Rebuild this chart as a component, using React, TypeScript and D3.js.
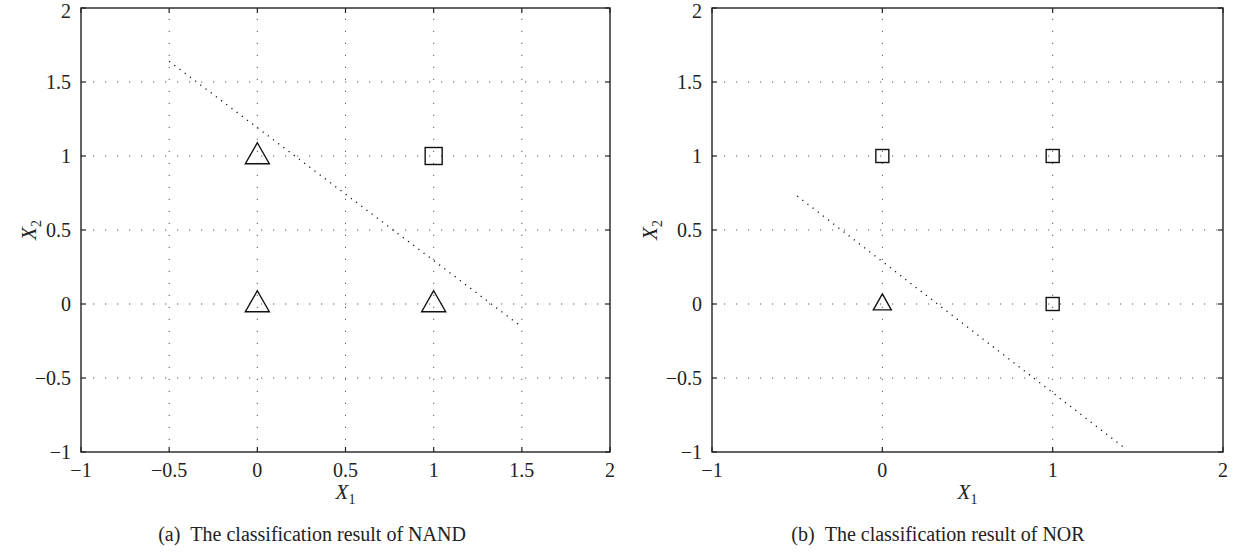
import React, { useEffect, useRef } from "react";
import * as d3 from "d3";

// tick values
const leftXTicks = [-1, -0.5, 0, 0.5, 1, 1.5, 2];
const rightXTicks = [-1, 0, 1, 2];
const yTicks = [-1, -0.5, 0, 0.5, 1, 1.5, 2];

// NAND: triangles = output 1, square = output 0
const nandTriX1 = [0, 0, 1];
const nandTriX2 = [0, 1, 0];
const nandSqX1 = [1];
const nandSqX2 = [1];
const nandLineX1 = [-0.5, 1.5];
const nandLineX2 = [1.64, -0.155];

// NOR
const norTriX1 = [0];
const norTriX2 = [0];
const norSqX1 = [0, 1, 1];
const norSqX2 = [1, 1, 0];
const norLineX1 = [-0.5, 1.43];
const norLineX2 = [0.73, -0.98];

const FONT = "'Liberation Serif', 'Times New Roman', serif";

const fmt = (v) => (v < 0 ? "\u2212" + Math.abs(v) : String(v));

function drawPanel(root, opts) {
  const { left, right, top, bottom, xTicks, tri, sq, line, triSize, sqSize, caption, captionX, yLabelX } = opts;

  const x = d3.scaleLinear().domain([-1, 2]).range([left, right]);
  const y = d3.scaleLinear().domain([-1, 2]).range([bottom, top]);

  const g = root.append("g");

  // grid
  g.selectAll(".vgrid")
    .data(xTicks.filter((t) => t > -1 && t < 2))
    .enter()
    .append("line")
    .attr("x1", (d) => x(d))
    .attr("x2", (d) => x(d))
    .attr("y1", bottom)
    .attr("y2", top)
    .attr("stroke", "#555")
    .attr("stroke-width", 1)
    .attr("stroke-dasharray", "1.2,10.8");
  g.selectAll(".hgrid")
    .data(yTicks.filter((t) => t > -1 && t < 2))
    .enter()
    .append("line")
    .attr("x1", left)
    .attr("x2", right)
    .attr("y1", (d) => y(d))
    .attr("y2", (d) => y(d))
    .attr("stroke", "#555")
    .attr("stroke-width", 1)
    .attr("stroke-dasharray", "1.2,10.8");

  // decision boundary
  const lineGen = d3
    .line()
    .x((d) => x(d[0]))
    .y((d) => y(d[1]));
  g.append("path")
    .attr("d", lineGen(line[0].map((v, i) => [v, line[1][i]])))
    .attr("fill", "none")
    .attr("stroke", "#111")
    .attr("stroke-width", 1.3)
    .attr("stroke-dasharray", "1.2,5.3");

  // ticks (inward, all four sides)
  const tl = 5;
  xTicks.forEach((t) => {
    g.append("line").attr("x1", x(t)).attr("x2", x(t)).attr("y1", bottom).attr("y2", bottom - tl)
      .attr("stroke", "#222").attr("stroke-width", 1.2);
    g.append("line").attr("x1", x(t)).attr("x2", x(t)).attr("y1", top).attr("y2", top + tl)
      .attr("stroke", "#222").attr("stroke-width", 1.2);
  });
  yTicks.forEach((t) => {
    g.append("line").attr("x1", left).attr("x2", left + tl).attr("y1", y(t)).attr("y2", y(t))
      .attr("stroke", "#222").attr("stroke-width", 1.2);
    g.append("line").attr("x1", right).attr("x2", right - tl).attr("y1", y(t)).attr("y2", y(t))
      .attr("stroke", "#222").attr("stroke-width", 1.2);
  });

  // frame
  g.append("rect")
    .attr("x", left)
    .attr("y", top)
    .attr("width", right - left)
    .attr("height", bottom - top)
    .attr("fill", "none")
    .attr("stroke", "#222")
    .attr("stroke-width", 1.4);

  // markers
  const [tw, th] = triSize;
  tri[0].forEach((v, i) => {
    const cx = x(v);
    const cy = y(tri[1][i]);
    g.append("path")
      .attr("d", `M${cx},${cy - th * 0.63}L${cx + tw / 2},${cy + th * 0.37}L${cx - tw / 2},${cy + th * 0.37}Z`)
      .attr("fill", "none")
      .attr("stroke", "#111")
      .attr("stroke-width", 1.4)
      .attr("stroke-linejoin", "miter");
  });
  sq[0].forEach((v, i) => {
    g.append("rect")
      .attr("x", x(v) - sqSize / 2)
      .attr("y", y(sq[1][i]) - sqSize / 2)
      .attr("width", sqSize)
      .attr("height", sqSize)
      .attr("fill", "none")
      .attr("stroke", "#111")
      .attr("stroke-width", 1.4);
  });

  // tick labels
  g.selectAll(".xlab")
    .data(xTicks)
    .enter()
    .append("text")
    .attr("x", (d) => x(d))
    .attr("y", bottom + 25)
    .attr("text-anchor", "middle")
    .attr("font-family", FONT)
    .attr("font-size", 20)
    .attr("fill", "#222")
    .text(fmt);
  g.selectAll(".ylab")
    .data(yTicks)
    .enter()
    .append("text")
    .attr("x", left - 10)
    .attr("y", (d) => Math.max(y(d) + 7, 18))
    .attr("text-anchor", "end")
    .attr("font-family", FONT)
    .attr("font-size", 20)
    .attr("fill", "#222")
    .text(fmt);

  // axis labels
  const xl = g.append("text")
    .attr("x", (left + right) / 2)
    .attr("y", bottom + 47)
    .attr("text-anchor", "middle")
    .attr("font-family", FONT)
    .attr("font-size", 21)
    .attr("fill", "#222");
  xl.append("tspan").attr("font-style", "italic").text("X");
  xl.append("tspan").attr("font-size", 14).attr("dy", 5).text("1");

  const yl = g.append("text")
    .attr("transform", `translate(${yLabelX},${(top + bottom) / 2}) rotate(-90)`)
    .attr("text-anchor", "middle")
    .attr("font-family", FONT)
    .attr("font-size", 21)
    .attr("fill", "#222");
  yl.append("tspan").attr("font-style", "italic").text("X");
  yl.append("tspan").attr("font-size", 14).attr("dy", 5).text("2");

  // caption
  g.append("text")
    .attr("x", captionX)
    .attr("y", 541)
    .attr("text-anchor", "middle")
    .attr("font-family", FONT)
    .attr("font-size", 20)
    .attr("fill", "#222")
    .text(caption);
}

const App = () => {
  const svgRef = useRef(null);

  useEffect(() => {
    const svg = d3.select(svgRef.current);
    svg.selectAll("*").remove();

    drawPanel(svg, {
      left: 81,
      right: 610,
      top: 8,
      bottom: 452,
      xTicks: leftXTicks,
      tri: [nandTriX1, nandTriX2],
      sq: [nandSqX1, nandSqX2],
      line: [nandLineX1, nandLineX2],
      triSize: [24, 21],
      sqSize: 17,
      caption: "(a)\u00a0\u00a0The classification result of NAND",
      captionX: 312,
      yLabelX: 36,
    });

    drawPanel(svg, {
      left: 712,
      right: 1223,
      top: 8,
      bottom: 452,
      xTicks: rightXTicks,
      tri: [norTriX1, norTriX2],
      sq: [norSqX1, norSqX2],
      line: [norLineX1, norLineX2],
      triSize: [18, 16],
      sqSize: 13,
      caption: "(b)\u00a0\u00a0The classification result of NOR",
      captionX: 938,
      yLabelX: 657,
    });
  }, []);

  return (
    <svg
      ref={svgRef}
      width={1233}
      height={558}
      style={{ position: "absolute", left: 0, top: 0, background: "#fff" }}
    ></svg>
  );
};

export default App;
